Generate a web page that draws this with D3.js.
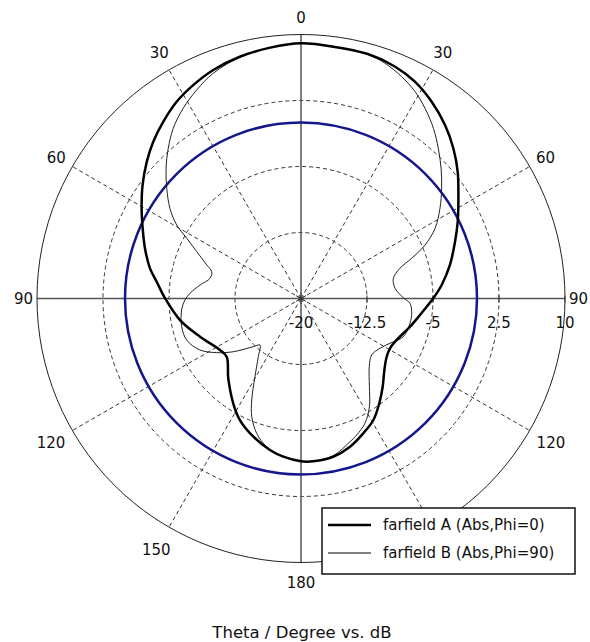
<!DOCTYPE html>
<html>
<head>
<meta charset="utf-8">
<script src="https://cdn.jsdelivr.net/npm/d3@7"></script>
<style>
  html, body { margin: 0; padding: 0; background: #fff; }
  svg { display: block; }
  text { font-family: "DejaVu Sans", Verdana, sans-serif; fill: #111; }
</style>
</head>
<body>
<svg id="chart" width="590" height="642"></svg>
<script>
// ---- data ----
const radialTicks = [-20, -12.5, -5, 2.5, 10];
const angleTicks = [0, 30, 60, 90, 120, 150, 180, 210, 240, 270, 300, 330];
const angleLabels = ["0", "30", "60", "90", "120", "150", "180", "150", "120", "90", "60", "30"];
const refLevelDb = [0];
const seriesNames = ["farfield A (Abs,Phi=0)", "farfield B (Abs,Phi=90)"];

const thetaA = [0, 7.7, 15.3, 21.9, 27.7, 33.6, 39.7, 45.4, 51, 56.7, 63.9, 69.8, 77.3, 84.5, 89.9, 97.9, 104.5, 113.4, 119.2, 124.2, 130.6, 137.2, 143.2, 149.2, 155.2, 161.7, 168.5, 175.7, 180, 186.4, 191.6, 199, 206.7, 212.9, 222.2, 231.9, 237.6, 249.3, 259.9, 270.1, 276.6, 281.3, 287.8, 293.9, 299.5, 305.6, 311.6, 316.7, 322.1, 327.7, 333.2, 339, 345.8, 353];
const dbA = [9.0, 8.85, 8.8, 8.45, 7.84, 6.84, 5.62, 4.31, 2.91, 1.4, -0.17, -1.35, -2.65, -3.94, -4.97, -6.35, -7.2, -8.15, -8.41, -8.23, -7.52, -6.34, -5.14, -3.93, -3.13, -2.26, -1.65, -1.45, -1.5, -1.91, -2.43, -3.39, -4.54, -5.82, -7.7, -9.27, -9.09, -7.73, -6.03, -4.55, -3.49, -2.5, -1.38, -0.32, 0.81, 2.14, 3.43, 4.48, 5.47, 6.45, 7.17, 7.82, 8.34, 8.72];

const thetaB = [0, 7.7, 15.3, 19.5, 24.3, 28.9, 33.1, 37.9, 42.4, 47.1, 51.9, 57, 62.4, 66.7, 70, 73, 77.7, 83.8, 89.9, 92.5, 97.6, 102.8, 110.5, 116.7, 122.2, 128.6, 135, 142.2, 147.7, 152.9, 157.8, 161.1, 168.5, 175.7, 180, 187.6, 193.1, 198.2, 202.6, 205.9, 210.5, 216.3, 221.4, 224.7, 231.8, 237.3, 243, 250, 256.7, 264.5, 269.3, 272.7, 277.6, 282.5, 286.7, 289.6, 294.2, 297.8, 300.6, 304.5, 309.4, 314, 318.5, 323.1, 328.2, 333.4, 338.7, 346, 353];
const dbB = [9.0, 8.85, 8.75, 8.4, 7.7, 6.84, 5.8, 4.5, 3.13, 1.73, 0.31, -1.17, -2.81, -4.66, -6.61, -8.24, -9.26, -9.25, -8.3, -7.6, -7.31, -7.3, -7.59, -8.68, -9.39, -9.72, -9.03, -7.32, -5.45, -4.06, -3.25, -2.8, -1.75, -1.45, -1.5, -2.06, -2.72, -3.87, -5.45, -7.18, -9.69, -11.8, -12.95, -12.3, -10.22, -8.61, -7.11, -6.18, -6.07, -6.37, -6.82, -7.37, -8.42, -9.41, -9.41, -8.63, -7.01, -5.32, -3.59, -1.93, -0.26, 1.32, 2.77, 4.18, 5.42, 6.49, 7.47, 8.3, 8.72];

// ---- layout ----
const cx = 301, cy = 298.5, R = 264;
const legendBox = { x: 322, y: 508, w: 253, h: 66 };
const svg = d3.select("#chart");
const rScale = d3.scaleLinear().domain([radialTicks[0], radialTicks[radialTicks.length - 1]]).range([0, R]);
const toRad = a => a * Math.PI / 180;
const g = svg.append("g").attr("transform", `translate(${cx},${cy})`);

// dashed rings
g.selectAll("circle.grid").data(radialTicks.slice(1, -1)).join("circle")
  .attr("class", "grid").attr("r", d => rScale(d))
  .attr("fill", "none").attr("stroke", "#333").attr("stroke-width", 1)
  .attr("stroke-dasharray", "4,3");

// dashed spokes
g.selectAll("line.spoke").data(angleTicks.filter(a => a % 90 !== 0)).join("line")
  .attr("class", "spoke")
  .attr("x1", 0).attr("y1", 0)
  .attr("x2", a => R * Math.sin(toRad(a))).attr("y2", a => -R * Math.cos(toRad(a)))
  .attr("stroke", "#333").attr("stroke-width", 1).attr("stroke-dasharray", "4,3");

// main axes
g.append("line").attr("x1", -R).attr("x2", R).attr("y1", 0).attr("y2", 0)
  .attr("stroke", "#555").attr("stroke-width", 1.5);
g.append("line").attr("x1", 0).attr("x2", 0).attr("y1", -R).attr("y2", R)
  .attr("stroke", "#555").attr("stroke-width", 1.5);

// outer circle
g.append("circle").attr("r", rScale(radialTicks[radialTicks.length - 1]))
  .attr("fill", "none").attr("stroke", "#222").attr("stroke-width", 1);

// radial tick marks + labels
g.selectAll("line.rtick").data(radialTicks.slice(1)).join("line")
  .attr("class", "rtick")
  .attr("x1", d => rScale(d)).attr("x2", d => rScale(d))
  .attr("y1", -3).attr("y2", 4)
  .attr("stroke", "#333").attr("stroke-width", 1);
g.selectAll("text.rlab").data(radialTicks).join("text")
  .attr("class", "rlab")
  .attr("x", d => rScale(d)).attr("y", 29)
  .attr("text-anchor", "middle").attr("font-size", 15)
  .text(d => d);

// center marker
g.append("path").attr("d", d3.symbol(d3.symbolAsterisk, 90)())
  .attr("fill", "none").attr("stroke", "#333").attr("stroke-width", 1);

// angle labels (those that fall under the legend box are hidden, as in the original)
const labelPos = angleTicks.map((a, i) => {
  const s = Math.sin(toRad(a)), c = Math.cos(toRad(a));
  const w = angleLabels[i].length * 9.5;
  const d = R + 4 + (w / 2) * Math.abs(s) + (c < 0 ? 16.5 : 12.5) * Math.abs(c);
  return { a, label: angleLabels[i], x: d * s, y: -d * c };
}).filter(p => {
  const X = p.x + cx, Y = p.y + cy;
  return !(X > legendBox.x && X < legendBox.x + legendBox.w && Y > legendBox.y && Y < legendBox.y + legendBox.h);
});
g.selectAll("text.alab").data(labelPos).join("text")
  .attr("class", "alab")
  .attr("font-size", 15).attr("text-anchor", "middle").attr("dy", "0.36em")
  .attr("x", p => p.x).attr("y", p => p.y)
  .text(p => p.label);

// reference circle (blue)
g.selectAll("circle.ref").data(refLevelDb).join("circle")
  .attr("class", "ref").attr("r", d => rScale(d))
  .attr("fill", "none").attr("stroke", "#16168c").attr("stroke-width", 2.5);

// series
const line = d3.lineRadial()
  .angle(d => toRad(d[0]))
  .radius(d => rScale(d[1]))
  .curve(d3.curveCatmullRomClosed.alpha(0.5));

const dataA = thetaA.map((t, i) => [t, dbA[i]]);
const dataB = thetaB.map((t, i) => [t, dbB[i]]);

g.append("path").datum(dataB).attr("d", line)
  .attr("fill", "none").attr("stroke", "#222").attr("stroke-width", 1);
g.append("path").datum(dataA).attr("d", line)
  .attr("fill", "none").attr("stroke", "#000").attr("stroke-width", 2.5);

// legend
const lg = svg.append("g").attr("transform", `translate(${legendBox.x},${legendBox.y})`);
lg.append("rect").attr("width", legendBox.w).attr("height", legendBox.h)
  .attr("fill", "#fff").attr("stroke", "#111").attr("stroke-width", 1.5);
const legendStyles = [{ w: 2.5 }, { w: 1 }];
seriesNames.forEach((name, i) => {
  const y = 17 + i * 28;
  lg.append("line").attr("x1", 6).attr("x2", 49).attr("y1", y).attr("y2", y)
    .attr("stroke", "#000").attr("stroke-width", legendStyles[i].w);
  lg.append("text").attr("x", 61).attr("y", y).attr("dy", "0.36em")
    .attr("font-size", 15).text(name);
});

// title
svg.append("text").attr("x", 302).attr("y", 632).attr("dy", "0.36em")
  .attr("text-anchor", "middle").attr("font-size", 16.5)
  .text("Theta / Degree vs. dB");
</script>
</body>
</html>
